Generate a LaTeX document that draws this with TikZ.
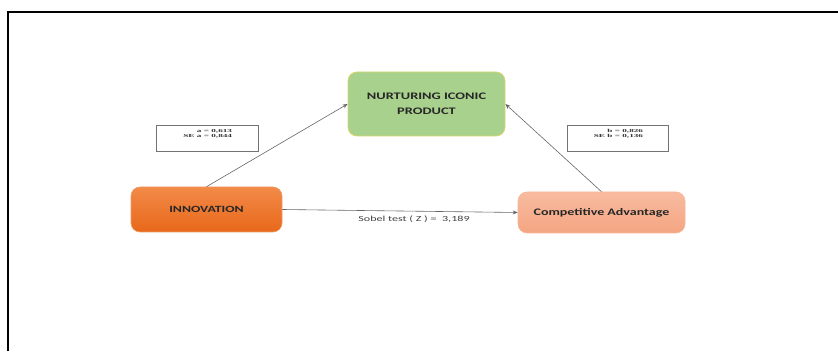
\documentclass[tikz,border=0pt]{standalone}
\usepackage{fontspec}
\setmainfont{Carlito}
\newfontfamily\serifbox{Liberation Serif}
\usetikzlibrary{arrows.meta}
\definecolor{nipfill}{HTML}{A9D18E}
\definecolor{nipdraw}{HTML}{D9D56A}
\definecolor{innotop}{HTML}{F28A48}
\definecolor{innobot}{HTML}{E8681A}
\definecolor{innodraw}{HTML}{F09A66}
\definecolor{catop}{HTML}{F8BB9F}
\definecolor{cabot}{HTML}{F4A582}
\definecolor{cadraw}{HTML}{F6B89A}
\definecolor{txt}{HTML}{262626}
\tikzset{
  mainbox/.style={rounded corners=9pt, inner sep=0pt, align=center, font=\bfseries, text=txt},
  statbox/.style={draw=black!55, line width=0.5pt, inner sep=0pt},
  stattext/.style={inner sep=0pt, anchor=north east, text=black!80, font=\serifbox\bfseries\fontsize{4.6}{5.2}\selectfont},
  conn/.style={draw=black!60, line width=0.6pt, -{Stealth[length=5pt,width=4pt]}},
  frameline/.style={line width=2pt, black}
}
\begin{document}
\begin{tikzpicture}[x=1pt,y=1pt]
\useasboundingbox (0,0) rectangle (838,351);
\coordinate (fb) at (8,0);
\coordinate (ftl) at (8,339);
\coordinate (fr) at (838,339);
\draw[frameline] (fb) -- (ftl) -- (fr);

\node[mainbox, fill=nipfill, draw=nipdraw, line width=0.8pt, minimum width=157pt, minimum height=64pt, font=\bfseries\fontsize{10}{15}\selectfont] (nip) at (426.5,247) {\scalebox{1.44}[1]{\begin{tabular}{@{}c@{}}NURTURING ICONIC\\PRODUCT\end{tabular}}};
\node[mainbox, top color=innotop, bottom color=innobot, draw=innodraw, line width=0.6pt, minimum width=151pt, minimum height=45pt, font=\bfseries\fontsize{9.5}{11}\selectfont] (inno) at (206.5,141.5) {\scalebox{1.45}[1]{INNOVATION}};
\node[mainbox, top color=catop, bottom color=cabot, draw=cadraw, line width=0.6pt, minimum width=167pt, minimum height=41pt, font=\bfseries\fontsize{10}{12}\selectfont] (ca) at (601.5,138.5) {\scalebox{1.4}[1]{Competitive Advantage}};

\node[statbox, minimum width=102pt, minimum height=26pt] (sa) at (207,213) {};
\node[statbox, minimum width=101pt, minimum height=26pt] (sb) at (617.5,213) {};
\node[stattext] (satext) at ([xshift=-26pt,yshift=-4pt]sa.north east) {\scalebox{2}[1]{\begin{tabular}{@{}r@{}}a = 0,613\\SE a = 0,844\end{tabular}}};
\node[stattext] (sbtext) at ([xshift=-25pt,yshift=-4pt]sb.north east) {\scalebox{2}[1]{\begin{tabular}{@{}r@{}}b = 0,826\\SE b = 0,136\end{tabular}}};

\draw[conn] (inno.north) -- (nip.west);
\draw[conn] (ca.north) -- (nip.east);
\draw[conn] (inno.east) -- (ca.west);

\node[font=\fontsize{7.8}{9}\selectfont, text=black!75] (sobel) at (414,131.5) {\scalebox{1.55}[1]{Sobel test ( Z ) =\ \ 3,189}};
\end{tikzpicture}
\end{document}
